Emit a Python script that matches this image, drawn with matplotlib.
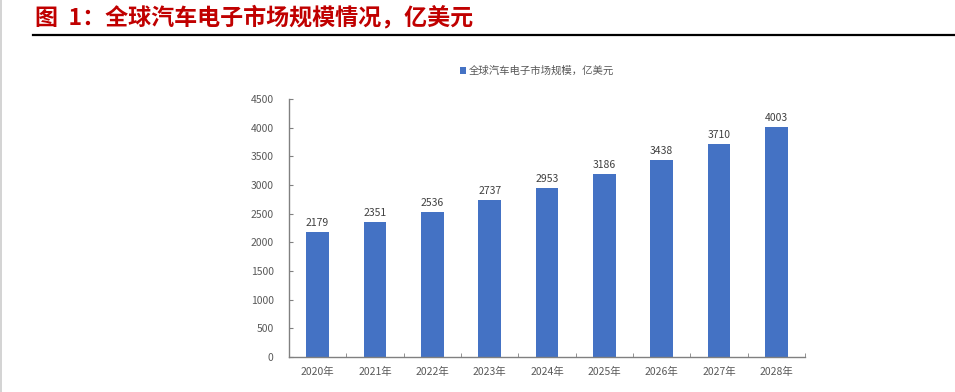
import matplotlib
matplotlib.use("Agg")
import matplotlib.pyplot as plt
from matplotlib.lines import Line2D

plt.rcParams['font.family'] = ['Noto Sans CJK SC', 'DejaVu Sans']

years = ["2020年", "2021年", "2022年", "2023年", "2024年", "2025年", "2026年", "2027年", "2028年"]
values = [2179, 2351, 2536, 2737, 2953, 3186, 3438, 3710, 4003]
series_name = "全球汽车电子市场规模，亿美元"
title = "图  1：全球汽车电子市场规模情况，亿美元"
yticks = [0, 500, 1000, 1500, 2000, 2500, 3000, 3500, 4000, 4500]

W, H = 955, 392
fig = plt.figure(figsize=(W / 100, H / 100), dpi=100)

# title and rule
fig.text(35 / W, 1 - 17 / H, title, color="#C00000", fontsize=16.6, fontweight="bold",
         va="center", ha="left")
fig.add_artist(Line2D([33 / W, 1.0], [1 - 35 / H, 1 - 35 / H], color="black", lw=1.6))
fig.add_artist(Line2D([1 / W, 1 / W], [0, 1], color="#CCCCCC", lw=1.2))

ax = fig.add_axes([289 / W, 1 - 357 / H, (805 - 289) / W, (357 - 99) / H])
x = list(range(len(years)))
bars = ax.bar(x, values, width=0.39, color="#4472C4", label=series_name, zorder=2)
for xi, v in zip(x, values):
    ax.text(xi, v + 70, str(v), ha="center", va="bottom", fontsize=7.5, color="#404040")

ax.set_xlim(-0.5, len(years) - 0.5)
ax.set_ylim(0, 4500)
ax.set_yticks(yticks)
ax.set_yticklabels([str(t) for t in yticks], fontsize=7.5, color="#595959")
ax.set_xticks(x)
ax.set_xticklabels(years, fontsize=7.5, color="#595959")
ax.tick_params(axis="x", length=0, pad=7)
ax.tick_params(axis="y", direction="in", length=3, color="#808080", pad=11)
# category boundary ticks on x axis
ax.set_xticks([i - 0.5 for i in range(len(years) + 1)], minor=True)
ax.tick_params(axis="x", which="minor", direction="in", length=3, color="#808080")

for s in ["top", "right"]:
    ax.spines[s].set_visible(False)
for s in ["left", "bottom"]:
    ax.spines[s].set_color("#808080")
    ax.spines[s].set_linewidth(1.0)

leg = fig.legend(handles=[bars], labels=[series_name], loc="center",
                 bbox_to_anchor=(537 / W, 1 - 71 / H), frameon=False, fontsize=7.5,
                 handlelength=0.6, handleheight=0.6, handletextpad=0.3)
for t in leg.get_texts():
    t.set_color("#595959")

fig.savefig("out.png", dpi=100)
